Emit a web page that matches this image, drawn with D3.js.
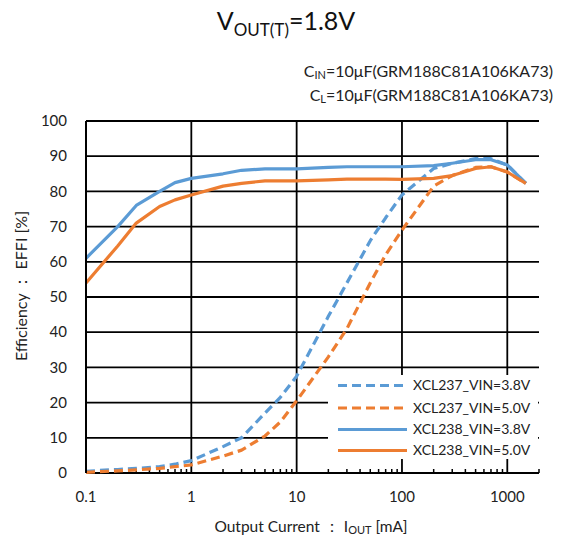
<!DOCTYPE html>
<html><head><meta charset="utf-8">
<script src="https://cdn.jsdelivr.net/npm/d3@7"></script>
<style>
body{margin:0;background:#fff;}
svg{display:block;font-family:Lato,"Open Sans",sans-serif;}
</style></head>
<body><svg id="c" width="563" height="543"></svg>
<script>
const currents = [0.1,0.2,0.3,0.5,0.7,1,2,3,5,7,10,20,30,50,70,100,200,300,500,700,1000,1500];
const xcl237_38 = [0.5,1,1.3,1.8,2.5,3.5,7.5,10,17,21.5,27.5,44.5,54,66,72.5,79,86.5,88,89.3,89.3,87.5,82.3];
const xcl237_50 = [0.2,0.6,0.9,1.3,1.8,2.3,4.8,6.5,10.5,14.5,20.5,33,41,54,62,69,81.5,84.5,86.8,87,85.5,82.3];
const xcl238_38 = [61,70,76,80,82.5,83.7,85,86,86.4,86.4,86.4,86.8,87,87,87,87,87.3,88,89,89,87.5,82.3];
const xcl238_50 = [54,64.5,71,75.7,77.6,79,81.5,82.3,83,83,83,83.3,83.5,83.5,83.5,83.4,83.7,84.5,86.5,87,85.5,82.3];
const seriesNames = ["XCL237_VIN=3.8V","XCL237_VIN=5.0V","XCL238_VIN=3.8V","XCL238_VIN=5.0V"];
const yTicks = [0,10,20,30,40,50,60,70,80,90,100];
const xTicks = [0.1,1,10,100,1000];

const BLUE="#5B9BD5", ORANGE="#ED7D31";
const series = [
  {name:seriesNames[0], vals:xcl237_38, color:BLUE, dash:"9,5"},
  {name:seriesNames[1], vals:xcl237_50, color:ORANGE, dash:"9,5"},
  {name:seriesNames[2], vals:xcl238_38, color:BLUE, dash:null},
  {name:seriesNames[3], vals:xcl238_50, color:ORANGE, dash:null}
];

const svg = d3.select("#c");
const L=86, R=539, T=121, B=473;
const x = d3.scaleLog().domain([0.1,2000]).range([L,R]);
const y = d3.scaleLinear().domain([0,100]).range([B,T]);

svg.append("g").selectAll("line").data(yTicks).join("line")
  .attr("x1",L).attr("x2",R).attr("y1",d=>y(d)).attr("y2",d=>y(d))
  .attr("stroke","#000").attr("stroke-width",1.8);
svg.append("g").selectAll("line").data(xTicks).join("line")
  .attr("x1",d=>x(d)).attr("x2",d=>x(d)).attr("y1",T).attr("y2",B)
  .attr("stroke","#000").attr("stroke-width",1.8);
const minors=[];
[0.1,1,10,100,1000].forEach(dec=>{for(let k=2;k<=9;k++){const v=dec*k; if(v<=2000) minors.push(v);}});
svg.append("g").selectAll("line").data(minors).join("line")
  .attr("x1",d=>x(d)).attr("x2",d=>x(d)).attr("y1",B).attr("y2",B-4)
  .attr("stroke","#000").attr("stroke-width",1.5);

svg.append("g").selectAll("text").data(yTicks).join("text")
  .attr("x",67).attr("y",d=>y(d)).attr("dy","0.35em").attr("text-anchor","end")
  .attr("font-size",15).attr("fill","#222").text(d=>d);
svg.append("g").selectAll("text").data(xTicks).join("text")
  .attr("x",d=>x(d)).attr("y",497).attr("dy","0.35em").attr("text-anchor","middle")
  .attr("font-size",15).attr("fill","#222").text(d=>d);

const line = d3.line().x((d,i)=>x(currents[i])).y(d=>y(d));
series.forEach(s=>{
  svg.append("path").datum(s.vals).attr("d",line)
    .attr("fill","none").attr("stroke",s.color).attr("stroke-width",3.2)
    .attr("stroke-linejoin","round")
    .attr("stroke-dasharray",s.dash);
});

const lg = svg.append("g");
lg.append("rect").attr("x",328).attr("y",375).attr("width",210).attr("height",84).attr("fill","#fff");
const rows=[385.5,408,429.5,450.5];
series.forEach((s,i)=>{
  lg.append("line").attr("x1",338).attr("x2",407).attr("y1",rows[i]).attr("y2",rows[i])
    .attr("stroke",s.color).attr("stroke-width",3.2).attr("stroke-dasharray",s.dash);
  lg.append("text").attr("x",413).attr("y",rows[i]).attr("dy","0.35em")
    .attr("font-size",14).attr("fill","#222").text(s.name);
});

svg.append("line").attr("x1",L).attr("x2",L).attr("y1",T).attr("y2",B).attr("stroke","#000").attr("stroke-width",2);

const t = svg.append("text").attr("x",286).attr("y",30).attr("text-anchor","middle").attr("font-size",25).attr("fill","#111");
t.append("tspan").text("V");
t.append("tspan").attr("font-size",17).attr("dy",6).text("OUT(T)");
t.append("tspan").attr("dy",-6).text("=1.8V");

const s1 = svg.append("text").attr("x",553).attr("y",77).attr("text-anchor","end").attr("font-size",16).attr("fill","#222");
s1.append("tspan").text("C");
s1.append("tspan").attr("font-size",11).attr("dy",2).text("IN");
s1.append("tspan").attr("dy",-2).text("=10μF(GRM188C81A106KA73)");
const s2 = svg.append("text").attr("x",553).attr("y",101).attr("text-anchor","end").attr("font-size",16).attr("fill","#222");
s2.append("tspan").text("C");
s2.append("tspan").attr("font-size",11).attr("dy",2).text("L");
s2.append("tspan").attr("dy",-2).text("=10μF(GRM188C81A106KA73)");

const xt = svg.append("text").attr("x",311).attr("y",532).attr("text-anchor","middle").attr("font-size",15.5).attr("fill","#222");
xt.append("tspan").text("Output Current ： I");
xt.append("tspan").attr("font-size",11).attr("dy",2).text("OUT");
xt.append("tspan").attr("dy",-2).text(" [mA]");

svg.append("text").attr("transform","translate(27,286) rotate(-90)").attr("text-anchor","middle")
  .attr("font-size",16).attr("fill","#222").text("Efficiency ： EFFI  [%]");
</script></body></html>
